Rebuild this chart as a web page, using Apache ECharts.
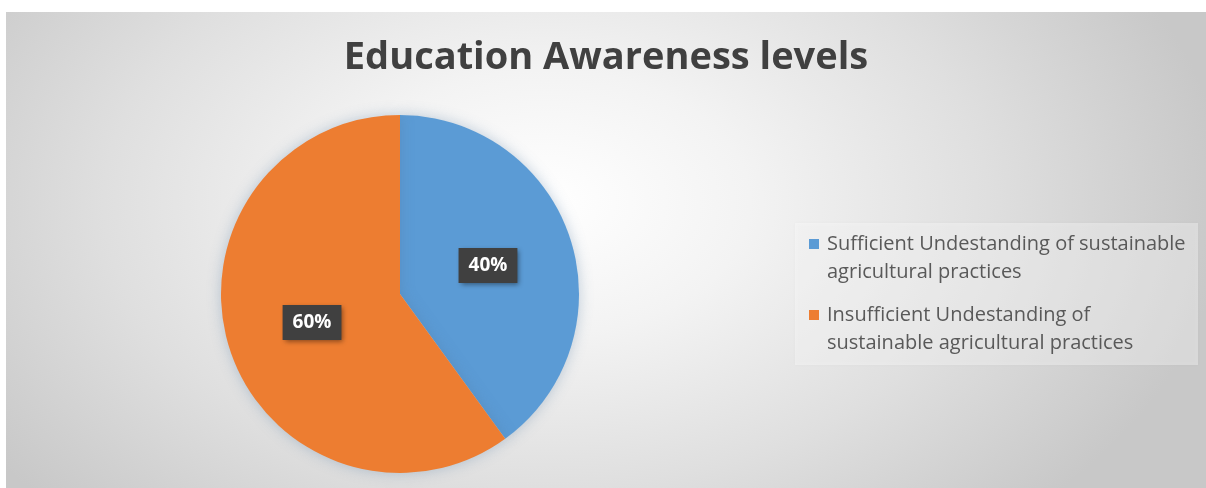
<!DOCTYPE html>
<html>
<head>
<meta charset="utf-8">
<script src="https://cdn.jsdelivr.net/npm/echarts@6/dist/echarts.min.js"></script>
<style>
  html, body { margin: 0; padding: 0; background: #ffffff; }
  #chart {
    position: absolute; left: 6px; top: 12px; width: 1200px; height: 476px;
    background: radial-gradient(ellipse 680px 440px at 540px 190px, #ffffff 0%, #f3f3f3 30%, #dfdfdf 65%, #c8c8c8 100%);
  }
</style>
</head>
<body>
<div id="chart"></div>
<script>
const titleText = 'Education Awareness levels';
const categories = [
  'Sufficient Undestanding of sustainable agricultural practices',
  'Insufficient Undestanding of sustainable agricultural practices'
];
const values = [40, 60];
const colors = ['#5b9bd5', '#ed7d31'];

function wrap(text, maxChars) {
  const words = text.split(' ');
  const lines = [];
  let cur = '';
  words.forEach(w => {
    const t = cur ? cur + ' ' + w : w;
    if (t.length > maxChars && cur) { lines.push(cur); cur = w; } else { cur = t; }
  });
  if (cur) lines.push(cur);
  return lines;
}

const chart = echarts.init(document.getElementById('chart'), null, { renderer: 'canvas' });
chart.setOption({
  animation: false,
  backgroundColor: 'transparent',
  title: {
    text: titleText,
    left: 'center',
    top: 22,
    textStyle: { fontFamily: 'Open Sans', fontWeight: 'bold', fontSize: 38, color: '#404040' }
  },
  graphic: [{
    type: 'rect', left: 789, top: 211, z: -1,
    shape: { width: 403, height: 142 },
    style: { fill: 'rgba(255,255,255,0.35)', shadowBlur: 3, shadowColor: 'rgba(0,0,0,0.08)' }
  }],
  legend: {
    orient: 'vertical',
    left: 803,
    top: 190,
    padding: 0,
    itemGap: -13,
    itemWidth: 10,
    itemHeight: 10,
    icon: 'rect',
    data: categories,
    formatter: name => '\n' + wrap(name, 38).join('\n'),
    textStyle: { fontFamily: 'Open Sans', fontSize: 20, lineHeight: 28, color: '#595959', padding: [0, 0, 0, 3] }
  },
  series: [{
    type: 'pie',
    center: [394, 282],
    radius: 179,
    startAngle: 90,
    clockwise: true,
    color: colors,
    itemStyle: { shadowBlur: 14, shadowColor: 'rgba(80,120,160,0.35)' },
    label: {
      show: true,
      position: 'inside',
      formatter: '{d}%',
      fontFamily: 'Open Sans',
      fontWeight: 'bold',
      fontSize: 19,
      color: '#ffffff',
      backgroundColor: '#404040',
      padding: [8, 10],
      shadowBlur: 5,
      shadowOffsetX: 2,
      shadowOffsetY: 2,
      shadowColor: 'rgba(0,0,0,0.45)'
    },
    labelLine: { show: false },
    emphasis: { disabled: true },
    data: categories.map((c, i) => ({ name: c, value: values[i] }))
  }]
});
</script>
</body>
</html>
